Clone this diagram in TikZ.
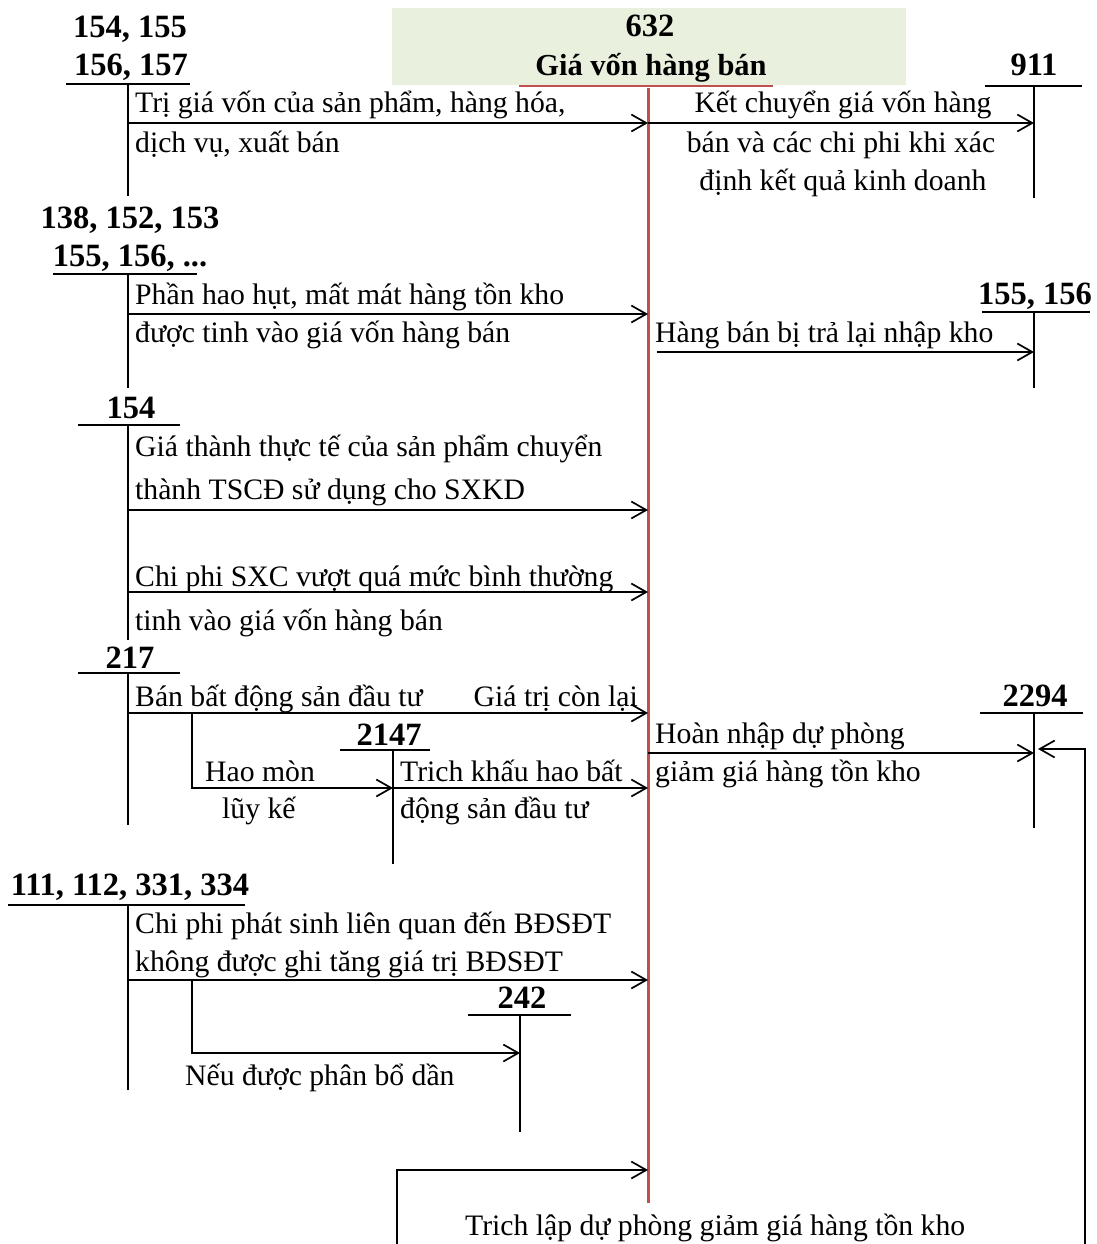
\documentclass[tikz,border=0pt]{standalone}
\usepackage{fontspec}
\setmainfont{Liberation Serif}
\usetikzlibrary{arrows.meta}
\definecolor{hdrgreen}{RGB}{233,240,222}
\definecolor{acred}{RGB}{192,80,77}

\begin{document}
\begin{tikzpicture}[x=1pt,y=-1pt,
  every node/.style={inner sep=0pt,font=\fontsize{29.7}{35}\selectfont},
  acc/.style={anchor=base,font=\fontsize{32.5}{38}\selectfont\bfseries},
  txt/.style={anchor=base west},
  tline/.style={line width=1.7pt},
  flow/.style={line width=1.7pt,-{Straight Barb[length=15pt,width=17pt,line width=1.7pt]}}]
\useasboundingbox (0,0) rectangle (1096,1244);
% header 632
\node[fill=hdrgreen,minimum width=514pt,minimum height=77pt] (hdr) at (649,46.5) {};
\node[acc] (n632) at (650,37) {632};
\node[acc,font=\fontsize{30.5}{36}\selectfont\bfseries] (title) at (651,76) {Giá vốn hàng bán};
\draw[acred,line width=2.6pt] ([xshift=-132pt,yshift=-10pt]title.base) -- ([xshift=122pt,yshift=-10pt]title.base);
\coordinate (redtop) at (648,88);
\coordinate (redbot) at (648,1203);
\draw[acred,line width=3pt] (redtop) -- (redbot);

% accounts
\node[acc] (n154a) at (130,38) {154, 155};
\node[acc] (n156a) at (131,76) {156, 157};
\coordinate (k1) at (128,84); \coordinate (k1b) at (128,196);
\draw[tline] ([xshift=-62pt]k1) -- ([xshift=62pt]k1) (k1) -- (k1b);

\node[acc] (n911) at (1034,76) {911};
\coordinate (k2) at (1034,86); \coordinate (k2b) at (1034,198);
\draw[tline] ([xshift=-49pt]k2) -- ([xshift=48pt]k2) (k2) -- (k2b);

\node[acc] (n138) at (130,228) {138, 152, 153};
\node[acc] (n155a) at (130,266) {155, 156, ...};
\coordinate (k3) at (128,274); \coordinate (k3b) at (128,388);
\draw[tline] ([xshift=-75pt]k3) -- ([xshift=69pt]k3) (k3) -- (k3b);

\node[acc] (n155b) at (1035,304) {155, 156};
\coordinate (k4) at (1034,312); \coordinate (k4b) at (1034,388);
\draw[tline] ([xshift=-52pt]k4) -- ([xshift=56pt]k4) (k4) -- (k4b);

\node[acc] (n154b) at (131,418) {154};
\coordinate (k5) at (128,425); \coordinate (k5b) at (128,640);
\draw[tline] ([xshift=-50pt]k5) -- ([xshift=52pt]k5) (k5) -- (k5b);

\node[acc] (n217) at (130,668) {217};
\coordinate (k6) at (128,673); \coordinate (k6b) at (128,825);
\draw[tline] ([xshift=-50pt]k6) -- ([xshift=52pt]k6) (k6) -- (k6b);

\node[acc] (n2147) at (389,745) {2147};
\coordinate (k7) at (393,750); \coordinate (k7b) at (393,864);
\draw[tline] ([xshift=-53pt]k7) -- ([xshift=37pt]k7) (k7) -- (k7b);

\node[acc] (n2294) at (1035,706) {2294};
\coordinate (k8) at (1034,713); \coordinate (k8b) at (1034,828);
\draw[tline] ([xshift=-54pt]k8) -- ([xshift=49pt]k8) (k8) -- (k8b);

\node[acc] (n111) at (130,895) {111, 112, 331, 334};
\coordinate (k9) at (128,905); \coordinate (k9b) at (128,1090);
\draw[tline] ([xshift=-120pt]k9) -- ([xshift=117pt]k9) (k9) -- (k9b);

\node[acc] (n242) at (522,1008) {242};
\coordinate (k10) at (520,1015); \coordinate (k10b) at (520,1132);
\draw[tline] ([xshift=-52pt]k10) -- ([xshift=51pt]k10) (k10) -- (k10b);

% rows on the 632 line
\coordinate (p1) at (648,123);
\coordinate (p3) at (648,314);
\coordinate (q4) at (657,352);
\coordinate (p5) at (648,510);
\coordinate (p6) at (648,592);
\coordinate (p7) at (648,713);
\coordinate (p9) at (648,788);
\coordinate (p10) at (648,753);
\coordinate (p12) at (648,980);
\coordinate (p13) at (648,1053);
\coordinate (p14) at (648,1170);
\coordinate (br1) at (192,713);
\coordinate (br2) at (192,980);
\coordinate (c1) at (1085,749);
\coordinate (c2) at (1085,1244);
\coordinate (b1) at (397,1244);

% entries
\draw[flow] (k1 |- p1) -- (p1);
\draw[flow] (p1) -- (k2 |- p1);
\draw[flow] (k3 |- p3) -- (p3);
\draw[flow] (q4) -- (k4 |- q4);
\draw[flow] (k5 |- p5) -- (p5);
\draw[flow] (k5 |- p6) -- (p6);
\draw[flow] (k6 |- p7) -- (p7);
\draw[flow] (br1) |- (k7 |- p9);
\draw[flow] (k7 |- p9) -- (p9);
\draw[flow] (p10) -- (k8 |- p10);
\draw[flow,shorten >=4pt] (c2) -- (c1) -- (k8 |- c1);
\draw[flow] (k9 |- p12) -- (p12);
\draw[flow] (br2) |- (k10 |- p13);
\draw[flow] (b1) |- (p14);

% texts
\node[txt] (t1a) at (135,113) {Trị giá vốn của sản phẩm, hàng hóa,};
\node[txt] (t1b) at (135,152) {dịch vụ, xuất bán};
\node[anchor=base] (t2a) at (843,113) {Kết chuyển giá vốn hàng};
\node[anchor=base] (t2b) at (841,152) {bán và các chi phi khi xác};
\node[anchor=base] (t2c) at (843,190) {định kết quả kinh doanh};
\node[txt] (t3a) at (135,304) {Phần hao hụt, mất mát hàng tồn kho};
\node[txt] (t3b) at (135,342) {được tinh vào giá vốn hàng bán};
\node[txt] (t4) at (655,342) {Hàng bán bị trả lại nhập kho};
\node[txt] (t5a) at (135,456) {Giá thành thực tế của sản phẩm chuyển};
\node[txt] (t5b) at (135,499) {thành TSCĐ sử dụng cho SXKD};
\node[txt] (t6a) at (135,586) {Chi phi SXC vượt quá mức bình thường};
\node[txt] (t6b) at (135,630) {tinh vào giá vốn hàng bán};
\node[txt] (t7) at (135,706) {Bán bất động sản đầu tư};
\node[anchor=base east] (t7r) at (638,706) {Giá trị còn lại};
\node[txt] (t8a) at (205,781) {Hao mòn};
\node[txt] (t8b) at (222,818) {lũy kế};
\node[txt] (t9a) at (400,781) {Trich khấu hao bất};
\node[txt] (t9b) at (400,818) {động sản đầu tư};
\node[txt] (t10a) at (655,743) {Hoàn nhập dự phòng};
\node[txt] (t10b) at (655,781) {giảm giá hàng tồn kho};
\node[txt] (t12a) at (135,933) {Chi phi phát sinh liên quan đến BĐSĐT};
\node[txt] (t12b) at (135,971) {không được ghi tăng giá trị BĐSĐT};
\node[txt] (t13) at (185,1085) {Nếu được phân bổ dần};
\node[txt] (t14) at (465,1235) {Trich lập dự phòng giảm giá hàng tồn kho};
\end{tikzpicture}
\end{document}
